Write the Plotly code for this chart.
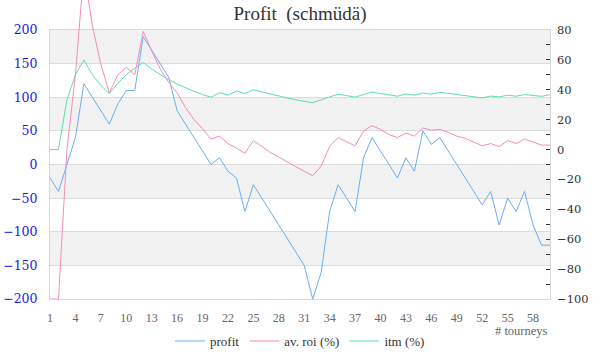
import plotly.graph_objects as go

tourneys = list(range(1, 61))
profit = [-20, -40, 0, 40, 120, 100, 80, 60, 90, 110,
          110, 190, 170, 150, 130, 80, 60, 40, 20, 0,
          10, -10, -20, -70, -30, -50, -70, -90, -110, -130,
          -150, -200, -160, -70, -30, -50, -70, 10, 40, 20,
          0, -20, 10, -10, 50, 30, 40, 20, 0, -20,
          -40, -60, -40, -90, -50, -70, -40, -90, -120, -120]
roi = [-100, -100, 0, 50, 120, 83, 57, 38, 50, 55,
       50, 79, 66, 54, 45, 38, 28, 20, 14, 7,
       9, 4, 1, -2.5, 6, 2, -2, -5, -8.5, -11.5,
       -14.5, -17.5, -11, 2, 8, 5, 2.5, 12.5, 16, 13.5,
       10, 8, 11, 9, 14.5, 13, 13.5, 11.5, 9, 7.5,
       5, 2.5, 4, 2, 6, 4, 7, 5, 3, 3]
itm = [0, 0, 33.3, 50, 60, 50, 42.9, 37.5, 44.4, 50,
       54.5, 58.3, 53.8, 50, 46.7, 43.8, 41.2, 38.9, 36.8, 35,
       38.1, 36.4, 39.1, 37.5, 40, 38.5, 37, 35.7, 34.5, 33.3,
       32.3, 31.3, 33.3, 35.3, 37.1, 36.1, 35.1, 36.8, 38.5, 37.5,
       36.6, 35.7, 37.2, 36.4, 37.8, 37, 38.3, 37.5, 36.7, 36,
       35.3, 34.6, 35.8, 35.2, 36.4, 35.7, 36.8, 36.2, 35.6, 36.7]
x_ticks = list(range(1, 59, 3))
left_ticks = [-200, -150, -100, -50, 0, 50, 100, 150, 200]

FONT = "Liberation Serif"
NUMFONT = "DejaVu Serif"
C_PROFIT = "#6aaef2"
C_ROI = "#f38cbc"
C_ITM = "#5ee0a2"

W, H = 600, 360
L, R, T, B = 50, 50, 0, 61
plot_h = H - T - B          # 299
top_px = 30                 # plot top edge on page
dom_top = (plot_h - top_px) / plot_h
r_lo, r_hi = -100, 80
r3_hi = r_lo + plot_h * (r_hi - r_lo) / (plot_h - top_px)

fig = go.Figure()
fig.add_trace(go.Scatter(x=tourneys, y=profit, name="profit", mode="lines",
                         line=dict(color=C_PROFIT, width=1), yaxis="y"))
fig.add_trace(go.Scatter(x=tourneys, y=roi, name="av. roi (%)", mode="lines",
                         line=dict(color=C_ROI, width=1), yaxis="y3"))
fig.add_trace(go.Scatter(x=tourneys, y=itm, name="itm (%)", mode="lines",
                         line=dict(color=C_ITM, width=1), yaxis="y2"))

shapes = []
for lo, hi in [(150, 200), (50, 100), (-50, 0), (-150, -100)]:
    shapes.append(dict(type="rect", xref="paper", x0=0, x1=1, yref="y", y0=lo, y1=hi,
                       fillcolor="#f2f2f2", line=dict(width=0), layer="below"))

fig.update_layout(
    width=W, height=H,
    margin=dict(l=L, r=R, t=T, b=B, pad=0, autoexpand=False),
    paper_bgcolor="white", plot_bgcolor="rgba(0,0,0,0)",
    font=dict(family=FONT, color="#333333", size=12),
    title=dict(text="Profit\u00a0 (schmüdä)", x=0.5, xref="container", xanchor="center",
               y=1 - 13 / H, yref="container", yanchor="middle", automargin=False,
               font=dict(family=FONT, size=19, color="#333333")),
    shapes=shapes,
    showlegend=True,
    hovermode=False,
    legend=dict(orientation="h", x=0.5, xanchor="center", y=(plot_h - 341) / plot_h,
                yanchor="middle", font=dict(family=FONT, size=13, color="#333333"),
                bgcolor="rgba(0,0,0,0)", itemwidth=30),
    xaxis=dict(range=[1, 60], tickvals=x_ticks, ticktext=[str(v) for v in x_ticks],
               showgrid=False, zeroline=False, showline=True, mirror=True,
               linecolor="#d8d8d8", linewidth=1, ticks="", automargin=False,
               tickfont=dict(family=FONT, size=12, color="#666666"),
               ticklabelstandoff=8, anchor="y"),
    yaxis=dict(domain=[0, dom_top], range=[-200, 200], tickvals=left_ticks,
               showgrid=True, gridcolor="#dcdcdc", gridwidth=1, zeroline=False,
               showline=True, mirror=True, linecolor="#d8d8d8", ticks="", automargin=False,
               tickfont=dict(family=NUMFONT, size=12.5, color="#1a1aee"),
               ticklabelstandoff=9, anchor="x"),
    yaxis2=dict(domain=[0, dom_top], overlaying="y", side="right", anchor="x",
                range=[r_lo, r_hi], tick0=0, dtick=20, showgrid=False, zeroline=False,
                showline=False, ticks="inside", ticklen=4, tickwidth=1, tickcolor="#333333",
                minor=dict(dtick=10, tick0=0, ticks="inside", ticklen=4, tickcolor="#333333",
                           showgrid=False),
                tickfont=dict(family=NUMFONT, size=11.5, color="#333333"),
                ticklabelstandoff=6, automargin=False),
    yaxis3=dict(domain=[0, 1], anchor="x", range=[r_lo, r3_hi], visible=False,
                showgrid=False, zeroline=False, automargin=False),
)

fig.add_annotation(text="# tourneys", xref="paper", yref="paper", x=1, xanchor="right",
                   y=(plot_h - 331) / plot_h, yanchor="middle", showarrow=False,
                   font=dict(family=FONT, size=12.5, color="#666666"))

fig.write_html("out.html", config={"displayModeBar": False},
               post_script="document.body.style.margin='0px';")
